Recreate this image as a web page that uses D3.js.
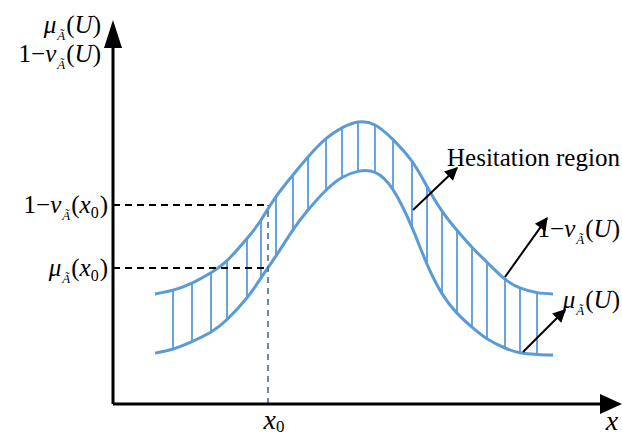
<!DOCTYPE html>
<html>
<head>
<meta charset="utf-8">
<script src="https://d3js.org/d3.v7.min.js"></script>
<style>
    body { margin: 0; background: white; }
    text { font-family: "Liberation Serif", "Times New Roman", serif; fill: black; }
    .it { font-style: italic; }
</style>
</head>
<body>
<svg width="622" height="438"></svg>
<script>
    // sample positions along x and the two membership curves
    const xs = [0.84, 1.2, 1.58, 1.96, 2.28, 2.68, 2.96, 3.26, 3.6, 3.9, 4.26, 4.58, 4.9, 5.24,
        5.6, 5.98, 6.28, 6.58, 6.88, 7.18, 7.48, 7.84, 8.14, 8.48, 8.8];
    const oneMinusNu = [0.344, 0.356, 0.378, 0.41, 0.448, 0.517, 0.575, 0.648, 0.716, 0.772, 0.829, 0.863, 0.881, 0.872,
        0.826, 0.758, 0.68, 0.603, 0.543, 0.49, 0.443, 0.39, 0.363, 0.348, 0.344];
    const mu = [0.159, 0.172, 0.195, 0.225, 0.264, 0.332, 0.394, 0.463, 0.544, 0.606, 0.668, 0.708, 0.727, 0.724,
        0.67, 0.552, 0.437, 0.345, 0.284, 0.24, 0.204, 0.175, 0.16, 0.155, 0.153];

    const x0 = 3.1;
    const muX0 = 0.425;
    const nuX0 = 0.622;

    // annotation arrows [fromX, fromY, toX, toY]
    const arrows = [
        [6.0, 0.606, 6.88, 0.7375],
        [7.84, 0.397, 8.68, 0.581],
        [8.2, 0.1625, 9.04, 0.294]
    ];

    const svg = d3.select('svg');
    const x = d3.scaleLinear().domain([0, 10]).range([113, 613]);
    const y = d3.scaleLinear().domain([0, 1]).range([404, 84]);
    const blue = '#5B9BD5';

    const defs = svg.append('defs');
    defs.append('marker').attr('id', 'ah')
        .attr('viewBox', '0 0 10 10').attr('refX', 9).attr('refY', 5)
        .attr('markerWidth', 16).attr('markerHeight', 13)
        .attr('markerUnits', 'userSpaceOnUse').attr('orient', 'auto')
        .append('path').attr('d', 'M0,0 L10,5 L0,10 Z').attr('fill', 'black');

    // hatch lines between the curves
    svg.append('g').selectAll('line')
        .data(xs.slice(1, -1).map((v, i) => [v, oneMinusNu[i + 1], mu[i + 1]]))
        .enter().append('line')
        .attr('x1', d => x(d[0])).attr('x2', d => x(d[0]))
        .attr('y1', d => y(d[1])).attr('y2', d => y(d[2]))
        .attr('stroke', blue).attr('stroke-width', 1.8);

    const line = d3.line().x(d => x(d[0])).y(d => y(d[1])).curve(d3.curveNatural);
    [oneMinusNu, mu].forEach(s => {
        svg.append('path').datum(xs.map((v, i) => [v, s[i]]))
            .attr('d', line).attr('fill', 'none')
            .attr('stroke', blue).attr('stroke-width', 3);
    });

    // dashed guides
    [nuX0, muX0].forEach(v => {
        svg.append('line')
            .attr('x1', x(0)).attr('x2', x(x0))
            .attr('y1', y(v)).attr('y2', y(v))
            .attr('stroke', 'black').attr('stroke-width', 2)
            .attr('stroke-dasharray', '7,5');
    });
    svg.append('line')
        .attr('x1', x(x0)).attr('x2', x(x0))
        .attr('y1', y(0)).attr('y2', y(nuX0))
        .attr('stroke', '#41719C').attr('stroke-width', 1.6)
        .attr('stroke-dasharray', '6,5');

    // axes with arrow heads
    svg.append('line').attr('x1', x(0)).attr('x2', 600).attr('y1', y(0)).attr('y2', y(0))
        .attr('stroke', 'black').attr('stroke-width', 3);
    svg.append('path').attr('d', `M600,${y(0) - 10} L622,${y(0)} L600,${y(0) + 10} Z`).attr('fill', 'black');
    svg.append('line').attr('x1', x(0)).attr('x2', x(0)).attr('y1', y(0)).attr('y2', 45)
        .attr('stroke', 'black').attr('stroke-width', 3);
    svg.append('path').attr('d', `M${x(0) - 9},48 L${x(0)},20 L${x(0) + 9},48 Z`).attr('fill', 'black');

    // annotation arrows
    svg.append('g').selectAll('line').data(arrows).enter().append('line')
        .attr('x1', d => x(d[0])).attr('y1', d => y(d[1]))
        .attr('x2', d => x(d[2])).attr('y2', d => y(d[3]))
        .attr('stroke', 'black').attr('stroke-width', 2)
        .attr('marker-end', 'url(#ah)');

    // math label helper: pre, greek, arg
    function mathLabel(px, py, pre, greek, arg, anchor) {
        const t = svg.append('text').attr('x', px).attr('y', py)
            .attr('text-anchor', anchor).style('font-size', '25px');
        if (pre) t.append('tspan').text(pre);
        t.append('tspan').attr('class', 'it').text(greek);
        t.append('tspan').attr('class', 'it').attr('dy', 7).attr('dx', 1).style('font-size', '13px').text('\u00C3');
        t.append('tspan').attr('dy', -7).attr('dx', 1).text('(');
        if (arg === 'x0') {
            t.append('tspan').attr('class', 'it').text('x');
            t.append('tspan').attr('dy', 5).style('font-size', '16px').text('0');
            t.append('tspan').attr('dy', -5).attr('dx', 1).text(')');
        } else {
            t.append('tspan').attr('class', 'it').text('U');
            t.append('tspan').text(')');
        }
        return t;
    }

    mathLabel(101, 33, null, '\u03BC', 'U', 'end');
    mathLabel(101, 62, '1\u2212', '\u03BD', 'U', 'end');
    mathLabel(108, y(nuX0) + 8, '1\u2212', '\u03BD', 'x0', 'end');
    mathLabel(108, y(muX0) + 8, null, '\u03BC', 'x0', 'end');
    mathLabel(620, 237, '1\u2212', '\u03BD', 'U', 'end');
    mathLabel(620, 308, null, '\u03BC', 'U', 'end');

    svg.append('text').attr('x', 447).attr('y', 166).style('font-size', '25px').text('Hesitation region');

    const xl = svg.append('text').attr('x', x(x0) + 6).attr('y', 429)
        .attr('text-anchor', 'middle').style('font-size', '28px');
    xl.append('tspan').attr('class', 'it').text('x');
    xl.append('tspan').attr('dy', 3).style('font-size', '17px').text('0');

    svg.append('text').attr('class', 'it').attr('x', 612).attr('y', 430)
        .attr('text-anchor', 'middle').style('font-size', '28px').text('x');
</script>
</body>
</html>
